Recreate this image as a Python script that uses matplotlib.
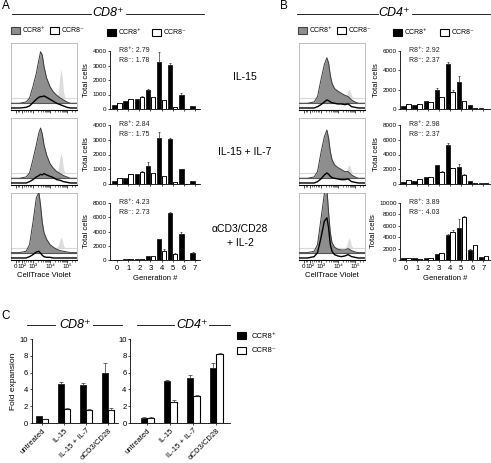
import matplotlib.pyplot as plt
import numpy as np
from matplotlib.lines import Line2D
from matplotlib.patches import Rectangle

plt.rcParams['font.family'] = ['Liberation Sans', 'DejaVu Sans']

W, H = 491, 463

# ---- data -------------------------------------------------------------
gens = [0, 1, 2, 3, 4, 5, 6, 7]

# total cells per generation (CCR8+ / CCR8-), with upward SEM
a_il15_pos = [250, 550, 720, 1300, 3250, 3050, 950, 180]
a_il15_neg = [430, 700, 850, 820, 620, 170, 30, 20]
a_il15_pos_err = [0, 0, 0, 100, 700, 150, 150, 0]
a_il15_neg_err = [0, 0, 50, 0, 0, 0, 0, 0]

a_il7_pos = [200, 420, 700, 1250, 3100, 3050, 1000, 170]
a_il7_neg = [380, 680, 780, 750, 520, 130, 20, 30]
a_il7_pos_err = [0, 0, 0, 250, 400, 100, 0, 0]
a_il7_neg_err = [0, 0, 100, 0, 0, 0, 0, 0]

a_cd3_pos = [30, 150, 200, 500, 2900, 6600, 3700, 1000]
a_cd3_neg = [30, 100, 150, 500, 1300, 800, 50, 30]
a_cd3_pos_err = [0, 0, 0, 0, 100, 200, 200, 100]
a_cd3_neg_err = [0, 0, 0, 0, 200, 150, 0, 0]

b_il15_pos = [300, 400, 850, 1950, 4700, 2800, 450, 80]
b_il15_neg = [500, 500, 750, 1250, 1800, 850, 100, 50]
b_il15_pos_err = [0, 0, 0, 200, 200, 600, 0, 0]
b_il15_neg_err = [0, 0, 0, 0, 200, 0, 0, 0]

b_il7_pos = [300, 450, 950, 2600, 5300, 2300, 350, 100]
b_il7_neg = [550, 650, 1000, 1600, 2200, 1200, 200, 80]
b_il7_pos_err = [0, 0, 0, 0, 200, 400, 0, 0]
b_il7_neg_err = [0, 0, 0, 100, 0, 100, 0, 0]

b_cd3_pos = [400, 300, 350, 1100, 4400, 5700, 1800, 500]
b_cd3_neg = [400, 250, 400, 1200, 5000, 7600, 2600, 700]
b_cd3_pos_err = [0, 0, 0, 0, 200, 1500, 200, 0]
b_cd3_neg_err = [0, 0, 0, 0, 200, 200, 0, 0]

r8_labels = [("2.79", "1.78"), ("2.84", "1.75"), ("4.23", "2.73"),
             ("2.92", "2.37"), ("2.98", "2.37"), ("3.89", "4.03")]

# CellTrace Violet histograms (decade position, relative height)
ctv = [1.7, 2.2, 2.6, 2.8, 3.0, 3.2, 3.35, 3.45, 3.55, 3.65, 3.8, 4.0,
       4.2, 4.4, 4.6, 4.8, 5.0, 5.2, 5.6]
ctrl_ctv = [4.4, 4.5, 4.58, 4.65, 4.72, 4.8, 4.9]

a1_gray = [0, 0, 0.02, 0.08, 0.25, 0.45, 0.65, 0.77, 0.72, 0.55, 0.38, 0.25,
           0.17, 0.12, 0.08, 0.05, 0.02, 0, 0]
a1_black = [0, 0, 0.01, 0.03, 0.08, 0.13, 0.16, 0.17, 0.17, 0.18, 0.16, 0.13,
            0.10, 0.07, 0.05, 0.03, 0.01, 0, 0]
a1_ctrl = [0, 0.1, 0.32, 0.43, 0.32, 0.08, 0]

a2_gray = [0, 0, 0.02, 0.08, 0.28, 0.5, 0.68, 0.75, 0.66, 0.5, 0.35, 0.22,
           0.15, 0.1, 0.07, 0.04, 0.02, 0, 0]
a2_black = [0, 0, 0.0, 0.02, 0.05, 0.09, 0.11, 0.13, 0.12, 0.14, 0.12, 0.1,
            0.08, 0.05, 0.04, 0.02, 0.01, 0, 0]
a2_ctrl = [0, 0.07, 0.22, 0.3, 0.22, 0.05, 0]

a3_gray = [0, 0, 0.02, 0.12, 0.45, 0.82, 0.9, 0.7, 0.45, 0.3, 0.2, 0.12,
           0.08, 0.05, 0.03, 0.02, 0.01, 0, 0]
a3_black = [0, 0, 0, 0.02, 0.05, 0.09, 0.1, 0.07, 0.04, 0.02, 0.01, 0.01,
            0, 0, 0, 0, 0, 0, 0]
a3_ctrl = [0, 0.04, 0.12, 0.16, 0.12, 0.03, 0]

b1_gray = [0, 0, 0.02, 0.1, 0.35, 0.58, 0.68, 0.6, 0.42, 0.3, 0.22, 0.18,
           0.15, 0.12, 0.1, 0.05, 0.02, 0, 0]
b1_black = [0, 0, 0, 0.02, 0.05, 0.09, 0.12, 0.11, 0.09, 0.08, 0.07, 0.06,
            0.06, 0.05, 0.06, 0.02, 0.01, 0, 0]
b1_ctrl = [0, 0.03, 0.1, 0.13, 0.1, 0.03, 0]

b2_gray = [0, 0, 0.02, 0.1, 0.38, 0.62, 0.72, 0.6, 0.4, 0.28, 0.2, 0.16,
           0.13, 0.1, 0.1, 0.05, 0.02, 0, 0]
b2_black = [0, 0, 0, 0.02, 0.06, 0.12, 0.15, 0.13, 0.1, 0.08, 0.07, 0.06,
            0.05, 0.05, 0.06, 0.02, 0.01, 0, 0]
b2_ctrl = [0, 0.03, 0.09, 0.12, 0.09, 0.03, 0]

b3_gray = [0, 0, 0.02, 0.12, 0.5, 0.88, 0.95, 0.6, 0.3, 0.15, 0.08, 0.05,
           0.04, 0.04, 0.06, 0.03, 0.01, 0, 0]
b3_black = [0, 0, 0.02, 0.08, 0.3, 0.55, 0.6, 0.45, 0.2, 0.1, 0.05, 0.03,
            0.02, 0.03, 0.05, 0.02, 0.01, 0, 0]
b3_ctrl = [0, 0.04, 0.11, 0.15, 0.11, 0.03, 0]

# fold expansion (panel C)
c_groups = ["untreated", "IL-15", "IL-15 + IL-7", "\u03b1CD3/CD28"]
c_cd8_pos = [0.8, 4.6, 4.5, 6.0]
c_cd8_neg = [0.45, 1.7, 1.55, 1.5]
c_cd8_pos_err = [0, 0.3, 0.3, 1.1]
c_cd8_neg_err = [0.05, 0.05, 0.1, 0.3]
c_cd4_pos = [0.65, 5.0, 5.4, 6.5]
c_cd4_neg = [0.65, 2.5, 3.2, 8.2]
c_cd4_pos_err = [0.05, 0.1, 0.3, 0.7]
c_cd4_neg_err = [0.05, 0.2, 0.1, 0.1]

conditions = ["IL-15", "IL-15 + IL-7", "\u03b1CD3/CD28\n+ IL-2"]

# ---- helpers ----------------------------------------------------------
fig = plt.figure(figsize=(W / 100, H / 100), dpi=100)
fig.patch.set_facecolor('white')


def box(x0, y0, x1, y1):
    return fig.add_axes([x0 / W, 1 - y1 / H, (x1 - x0) / W, (y1 - y0) / H])


def ftext(x, y, s, **kw):
    fig.text(x / W, 1 - y / H, s, **kw)


def hline(x0, x1, y):
    fig.add_artist(Line2D([x0 / W, x1 / W], [1 - y / H, 1 - y / H],
                          color='k', lw=0.6))


def square(x, y, fc, ec='k'):
    fig.add_artist(Rectangle((x / W, 1 - (y + 7) / H), 9 / W, 7 / H,
                             facecolor=fc, edgecolor=ec, lw=0.8))


def draw_hist(ax, gray, black, ctrl, bases, show_x):
    ctrl_b, gray_b, black_b = bases
    ax.set_xlim(1.71, 5.59)
    ax.set_ylim(0, 1)
    ax.axhline(ctrl_b, color='#d8d8d8', lw=0.8, zorder=1)
    ax.fill_between(ctrl_ctv, ctrl_b, ctrl_b + np.array(ctrl),
                    color='#dcdcdc', lw=0, zorder=1)
    ax.fill_between(ctv, gray_b, gray_b + np.array(gray),
                    color='#8e8e8e', lw=0, zorder=2)
    ax.plot(ctv, gray_b + np.array(gray), color='#3a3a3a', lw=0.7, zorder=3)
    ax.axhline(gray_b, color='#555555', lw=0.8, zorder=3)
    ax.plot(ctv, black_b + np.array(black), color='k', lw=1.0, zorder=4)
    for s in ['top', 'right', 'left']:
        ax.spines[s].set_color('#b5b5b5')
        ax.spines[s].set_linewidth(0.6)
    ax.spines['bottom'].set_linewidth(0.8)
    ax.set_yticks([])
    ax.set_xticks([2.0, 2.38, 3, 4, 5])
    minor = [d + np.log10(k) for d in (3, 4, 5) for k in range(2, 10)
             if d + np.log10(k) < 5.59]
    minor += [2.1, 2.2, 2.5, 2.6, 2.7, 2.8, 2.9]
    ax.set_xticks(minor, minor=True)
    ax.tick_params(axis='x', which='major', length=2, width=0.5, pad=1,
                   labelsize=4.5)
    ax.tick_params(axis='x', which='minor', length=1.2, width=0.4)
    if show_x:
        ax.set_xticklabels(['0', '10\u00b2', '10\u00b3', '10\u2074', '10\u2075'])
        ax.set_xlabel('CellTrace Violet', fontsize=5.5, labelpad=2)
    else:
        ax.set_xticklabels([])


def draw_bars(ax, pos, neg, pos_err, neg_err, ymax, step, r8, show_x, xlim):
    x = np.array(gens)
    zeros = np.zeros(len(gens))
    ekw = dict(ecolor='#333333', elinewidth=0.5, capsize=1.0, capthick=0.5)
    ax.bar(x - 0.22, pos, 0.4, color='k', edgecolor='k', lw=0.5,
           yerr=[zeros, pos_err], error_kw=ekw, zorder=2)
    ax.bar(x + 0.22, neg, 0.4, color='white', edgecolor='k', lw=0.7,
           yerr=[zeros, neg_err], error_kw=ekw, zorder=2)
    ax.set_xlim(*xlim)
    ax.set_ylim(0, ymax)
    ax.set_yticks(np.arange(0, ymax + 1, step))
    ax.spines['top'].set_visible(False)
    ax.spines['right'].set_visible(False)
    ax.spines['left'].set_linewidth(0.6)
    ax.spines['bottom'].set_linewidth(0.6)
    ax.tick_params(axis='y', length=1.5, width=0.5, pad=1, labelsize=4.5)
    ax.tick_params(axis='x', length=1.5, width=0.5, pad=2, labelsize=5.5)
    ax.set_xticks(gens)
    if show_x:
        ax.set_xlabel('Generation #', fontsize=5.5, labelpad=2)
    else:
        ax.set_xticklabels([])
    ax.set_ylabel('Total cells', fontsize=5.5, labelpad=1.5)
    ax.text(0.1, 1.0, 'R8\u207a: ' + r8[0], transform=ax.transAxes,
            fontsize=5, va='center', color='#222222')
    ax.text(0.1, 0.84, 'R8\u207b: ' + r8[1], transform=ax.transAxes,
            fontsize=5, va='center', color='#222222')


# ---- panel letters and headers ---------------------------------------
ftext(2, 6, 'A', fontsize=8.5, va='center')
ftext(280, 6, 'B', fontsize=8.5, va='center')
ftext(1, 316, 'C', fontsize=8.5, va='center')

ftext(108, 13, 'CD8\u207a', fontsize=9, style='italic', ha='center', va='center')
hline(12, 91, 14)
hline(126, 204, 14)
ftext(394, 13, 'CD4\u207a', fontsize=9, style='italic', ha='center', va='center')
hline(297, 378, 14)
hline(412, 490, 14)

# legends top
for x0, fc, lab in [(11, '#8e8e8e', 'CCR8\u207a'), (50, 'white', 'CCR8\u207b'),
                    (107, 'k', 'CCR8\u207a'), (152, 'white', 'CCR8\u207b'),
                    (298, '#8e8e8e', 'CCR8\u207a'), (337, 'white', 'CCR8\u207b'),
                    (393, 'k', 'CCR8\u207a'), (440, 'white', 'CCR8\u207b')]:
    y0 = 27 if fc == '#8e8e8e' or (fc == 'white' and x0 in (50, 337)) else 29
    square(x0, y0, fc, ec='#444444' if fc == '#8e8e8e' else 'k')
    ftext(x0 + 12, y0 + 3.5, lab, fontsize=5, va='center')

# ---- panels A and B --------------------------------------------------
rows = [(43, 110), (118, 185), (193, 260)]
bar_rows = [(51, 109), (125, 184), (203, 260)]

a_sets = [(a_il15_pos, a_il15_neg, a_il15_pos_err, a_il15_neg_err, 4000, 1000),
          (a_il7_pos, a_il7_neg, a_il7_pos_err, a_il7_neg_err, 4000, 1000),
          (a_cd3_pos, a_cd3_neg, a_cd3_pos_err, a_cd3_neg_err, 8000, 2000)]
b_sets = [(b_il15_pos, b_il15_neg, b_il15_pos_err, b_il15_neg_err, 6000, 2000),
          (b_il7_pos, b_il7_neg, b_il7_pos_err, b_il7_neg_err, 8000, 2000),
          (b_cd3_pos, b_cd3_neg, b_cd3_pos_err, b_cd3_neg_err, 10000, 2000)]
a_hists = [(a1_gray, a1_black, a1_ctrl), (a2_gray, a2_black, a2_ctrl),
           (a3_gray, a3_black, a3_ctrl)]
b_hists = [(b1_gray, b1_black, b1_ctrl), (b2_gray, b2_black, b2_ctrl),
           (b3_gray, b3_black, b3_ctrl)]

for i in range(3):
    show = i == 2
    y0, y1 = rows[i]
    bases = (0.18, 0.10, 0.03) if i < 2 else (0.18, 0.11, 0.03)
    draw_hist(box(11, y0, 77, y1), *a_hists[i], bases, show)
    draw_hist(box(299, y0, 365, y1), *b_hists[i], bases, show)
    by0, by1 = bar_rows[i]
    p, n, pe, ne, ymax, step = a_sets[i]
    draw_bars(box(110, by0, 200, by1), p, n, pe, ne, ymax, step,
              r8_labels[i], show, (-0.63, 7.45))
    p, n, pe, ne, ymax, step = b_sets[i]
    draw_bars(box(400, by0, 490, by1), p, n, pe, ne, ymax, step,
              r8_labels[i + 3], show, (-0.55, 7.6))

ftext(245, 77, conditions[0], fontsize=7.5, ha='center', va='center')
ftext(245, 152, conditions[1], fontsize=7.5, ha='center', va='center')
ftext(240, 236, conditions[2], fontsize=7.5, ha='center', va='center',
      linespacing=1.5)

# ---- panel C ---------------------------------------------------------
ftext(75, 325, 'CD8\u207a', fontsize=9, style='italic', ha='center', va='center')
hline(27, 55, 325)
hline(93, 122, 325)
ftext(192, 325, 'CD4\u207a', fontsize=9, style='italic', ha='center', va='center')
hline(137, 174, 325)
hline(209, 230, 325)

c_sets = [((31.7, 339, 118, 423), c_cd8_pos, c_cd8_neg, c_cd8_pos_err,
           c_cd8_neg_err, (-0.47, 3.45), True),
          ((130, 339, 230, 423), c_cd4_pos, c_cd4_neg, c_cd4_pos_err,
           c_cd4_neg_err, (-0.75, 3.6), False)]
for rect, p, n, pe, ne, xl, ylab in c_sets:
    ax = box(*rect)
    x = np.arange(len(c_groups))
    zeros = np.zeros(len(c_groups))
    ekw = dict(ecolor='#333333', elinewidth=0.5, capsize=1.2, capthick=0.5)
    ax.bar(x - 0.15, p, 0.28, color='k', edgecolor='k', lw=0.5,
           yerr=[zeros, pe], error_kw=ekw)
    ax.bar(x + 0.15, n, 0.28, color='white', edgecolor='k', lw=0.8,
           yerr=[zeros, ne], error_kw=ekw)
    ax.set_xlim(*xl)
    ax.set_ylim(0, 10)
    ax.set_yticks([0, 2, 4, 6, 8, 10])
    ax.set_xticks(x)
    ax.set_xticklabels(c_groups, rotation=45, ha='right',
                       rotation_mode='anchor', fontsize=5.5)
    ax.spines['top'].set_visible(False)
    ax.spines['right'].set_visible(False)
    ax.spines['left'].set_linewidth(0.6)
    ax.spines['bottom'].set_linewidth(0.6)
    ax.tick_params(axis='y', length=1.5, width=0.5, pad=1, labelsize=5.5)
    ax.tick_params(axis='x', length=1.5, width=0.5, pad=1.5)
    if ylab:
        ax.set_ylabel('Fold expansion', fontsize=6, labelpad=2)

square(237, 332, 'k')
ftext(252, 336, 'CCR8\u207a', fontsize=5.5, va='center')
square(237, 347, 'white')
ftext(252, 351, 'CCR8\u207b', fontsize=5.5, va='center')

fig.savefig('out.png', dpi=100)
